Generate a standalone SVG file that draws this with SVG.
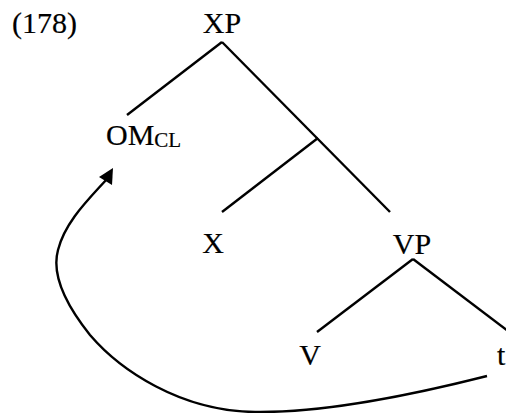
<svg xmlns="http://www.w3.org/2000/svg" width="506" height="413" viewBox="0 0 506 413">
<style>
text{font-family:"Liberation Serif","Times New Roman",serif;font-size:30px;fill:#000;stroke:#000;stroke-width:0.2}
.sub{font-size:21px}
line,path{stroke:#000;stroke-width:2.4;fill:none;stroke-linecap:butt}
</style>
<rect width="506" height="413" fill="#fff"/>
<text x="12" y="33">(178)</text>
<g id="XP"><text x="222" y="33" text-anchor="middle">XP</text></g>
<g id="OMCL"><text x="106" y="145">OM<tspan class="sub" dy="2">CL</tspan></text></g>
<g id="X"><text x="213" y="253" text-anchor="middle">X</text></g>
<g id="VP"><text x="412" y="254" text-anchor="middle">VP</text></g>
<g id="V"><text x="310" y="365" text-anchor="middle">V</text></g>
<g id="t"><text x="497" y="365">t</text></g>
<g id="connectors">
<line x1="222" y1="42" x2="127" y2="115"/>
<line x1="222" y1="42" x2="390" y2="212"/>
<line x1="318" y1="138" x2="222" y2="212"/>
<line x1="413" y1="259" x2="317" y2="332"/>
<line x1="413" y1="259" x2="508" y2="331"/>
<path d="M487,376 C420,393 330,413 255,412 C180,411 120,370 90,335 C62,300 52,272 58,250 C65,222 88,200 106,180"/>
<polygon points="113,168 99,177 112,185" fill="#000"/>
</g>
</svg>
